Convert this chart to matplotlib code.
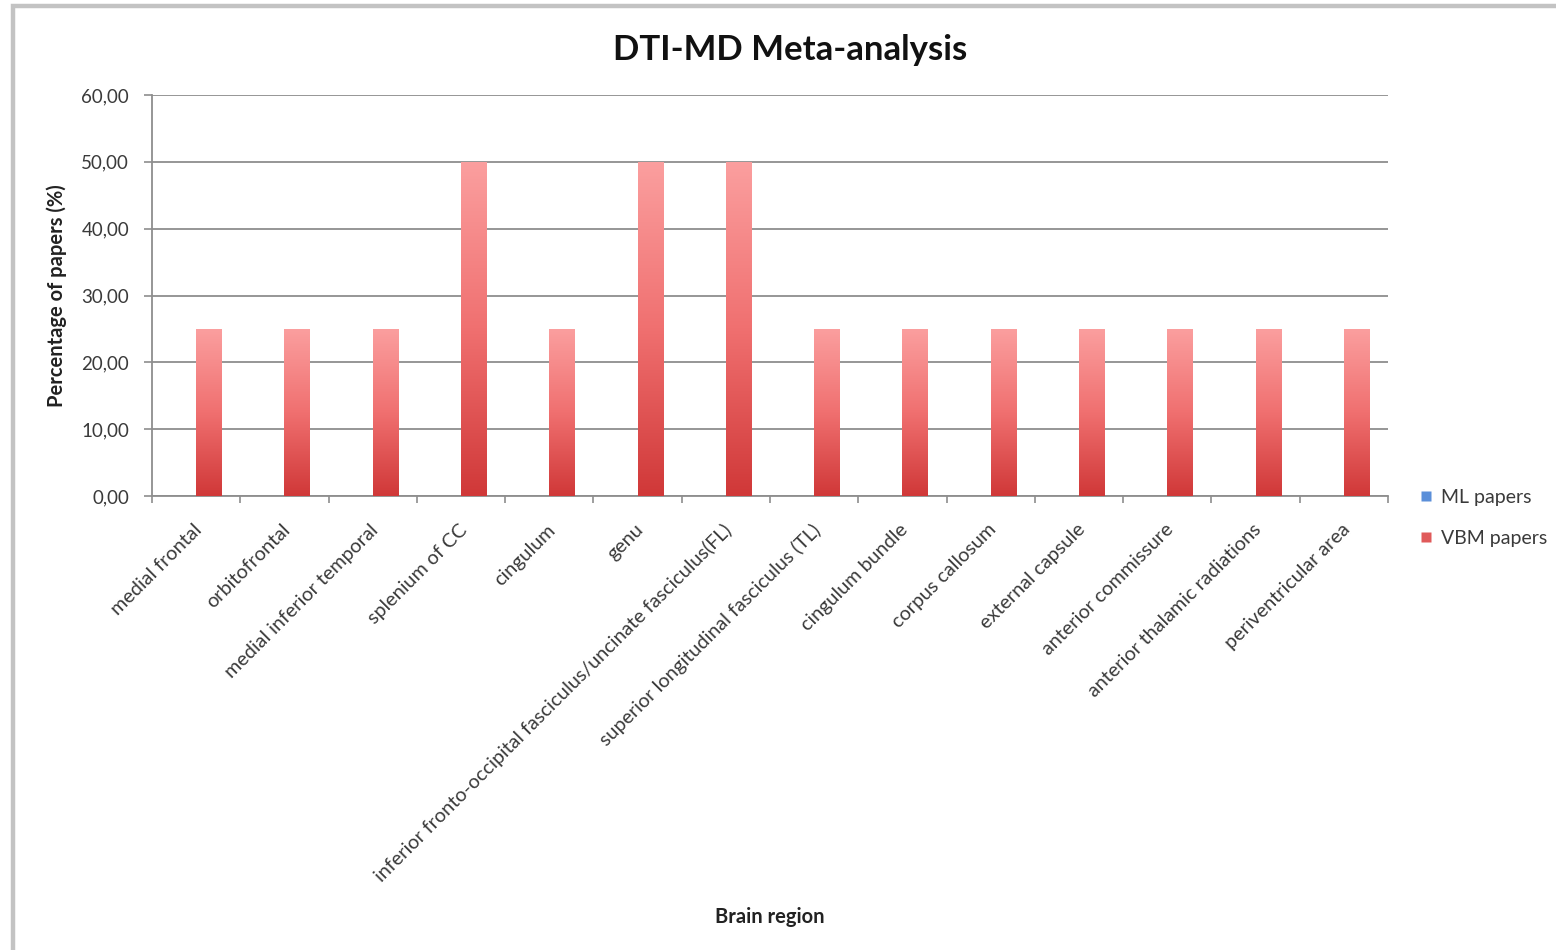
import numpy as np
import matplotlib
matplotlib.use("Agg")
import matplotlib.pyplot as plt
from matplotlib.colors import LinearSegmentedColormap
from matplotlib.lines import Line2D
from matplotlib.patches import Rectangle
from matplotlib.transforms import ScaledTranslation

plt.rcParams['font.family'] = ['Lato', 'DejaVu Sans']

regions = [
    "medial frontal", "orbitofrontal", "medial inferior temporal",
    "splenium of CC", "cingulum", "genu",
    "inferior fronto-occipital fasciculus/uncinate fasciculus(FL)",
    "superior longitudinal fasciculus (TL)", "cingulum bundle",
    "corpus callosum", "external capsule", "anterior commissure",
    "anterior thalamic radiations", "periventricular area",
]
ml_papers = [0, 0, 0, 0, 0, 0, 0, 0, 0, 0, 0, 0, 0, 0]
vbm_papers = [25, 25, 25, 50, 25, 50, 50, 25, 25, 25, 25, 25, 25, 25]
y_ticks = [0, 10, 20, 30, 40, 50, 60]

W, H = 1556, 950
fig = plt.figure(figsize=(W / 100, H / 100), dpi=100)
fig.patch.set_facecolor("white")

# outer chart frame (open to the right and bottom)
fig.add_artist(Rectangle((13 / W, -0.05), 1.2, 1 - 6 / H + 0.05,
                         transform=fig.transFigure, fill=False,
                         edgecolor="#c3c3c3", lw=3.2, zorder=0))

ax = fig.add_axes([152 / W, (H - 496) / H, (1388 - 152) / W, (496 - 95) / H])

x = np.arange(len(regions))
w = 0.29
grid_c = "#8e8e8e"
text_c = "#3a3a3a"

ax.bar(x - w / 2, ml_papers, width=w, color="#5b8fd9", zorder=3)
bars = ax.bar(x + w / 2, vbm_papers, width=w, color="#e46060", zorder=3)

# vertical red gradient inside each VBM bar
red_cmap = LinearSegmentedColormap.from_list("redgrad", ["#d03838", "#f07070", "#fb9f9f"])
grad = np.linspace(0, 1, 256).reshape(-1, 1)
for b in bars:
    x0, y0 = b.get_x(), b.get_y()
    im = ax.imshow(grad, cmap=red_cmap, origin="lower", aspect="auto",
                   extent=[x0, x0 + b.get_width(), y0, y0 + b.get_height()],
                   zorder=4, interpolation="bilinear")
    im.set_clip_path(b)

ax.set_xlim(-0.5, len(regions) - 0.5)
ax.set_ylim(0, 60)
ax.set_yticks(y_ticks)
ax.set_yticklabels([f"{v:.2f}".replace(".", ",") for v in y_ticks],
                   fontsize=13.5, color=text_c)
ax.yaxis.grid(True, color=grid_c, lw=1.3, zorder=1)
ax.set_axisbelow(True)

# category ticks on boundaries, labels at centers
ax.set_xticks(np.arange(len(regions) + 1) - 0.5)
ax.set_xticklabels([])
ax.set_xticks(x, minor=True)
ax.set_xticklabels(regions, minor=True, rotation=45, ha="right", va="top",
                   rotation_mode="anchor", fontsize=14.2, color=text_c)
ax.tick_params(axis="x", which="minor", length=0, pad=18)
ax.tick_params(axis="x", which="major", length=5, color=grid_c, width=1.2)
ax.tick_params(axis="y", length=6, color=grid_c, width=1.2, pad=10.5)

# nudge the slanted category labels slightly left
shift = ScaledTranslation(-3 / 100, 0, fig.dpi_scale_trans)
for lbl in ax.get_xticklabels(minor=True):
    lbl.set_transform(lbl.get_transform() + shift)

for s in ["top", "right"]:
    ax.spines[s].set_visible(False)
for s in ["left", "bottom"]:
    ax.spines[s].set_color(grid_c)
    ax.spines[s].set_linewidth(1.3)

ax.set_facecolor("white")

fig.text(790 / W, 1 - 50 / H, "DTI-MD Meta-analysis", ha="center", va="center",
         fontsize=25, fontweight="bold", color="#111111")
fig.text(57 / W, 1 - 296 / H, "Percentage of papers (%)", ha="center", va="center",
         rotation=90, fontsize=14.5, fontweight="bold", color="#222222")
fig.text(770 / W, 1 - 917 / H, "Brain region", ha="center", va="center",
         fontsize=14.5, fontweight="bold", color="#222222")

handles = [
    Line2D([], [], marker="s", ls="none", markersize=6.5, markerfacecolor="#5b8fd9",
           markeredgecolor="none"),
    Line2D([], [], marker="s", ls="none", markersize=6.5, markerfacecolor="#e05a5a",
           markeredgecolor="none"),
]
fig.legend(handles, ["ML papers", "VBM papers"], loc="upper left",
           bbox_to_anchor=(1410 / W, 1 - 479 / H), frameon=False,
           handlelength=0.6, handletextpad=0.5, labelspacing=1.25,
           prop={"size": 14}, labelcolor=text_c, borderpad=0)

fig.savefig("out.png", dpi=100, facecolor="white")
